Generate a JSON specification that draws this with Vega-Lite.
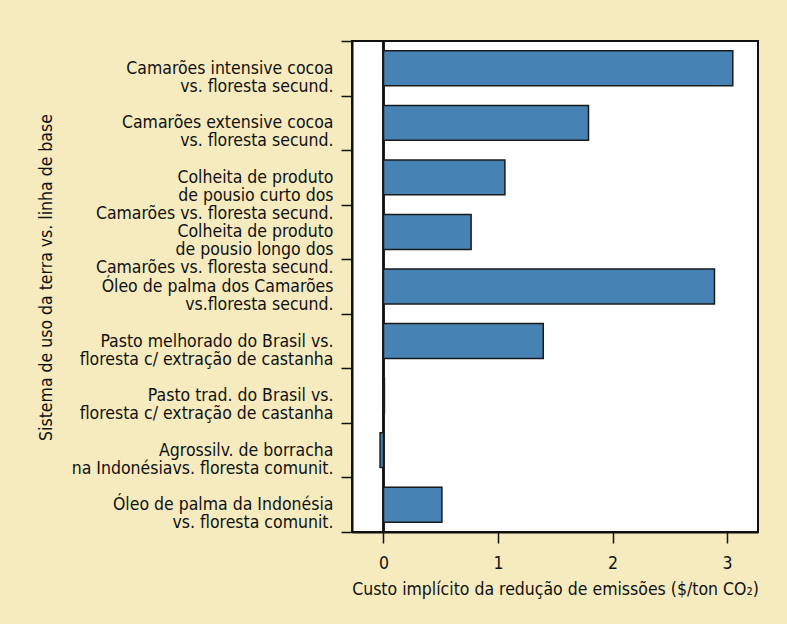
{
  "$schema": "https://vega.github.io/schema/vega-lite/v6.json",
  "width": 406,
  "height": 491,
  "autosize": {"type": "none"},
  "padding": {"left": 352, "top": 41, "right": 29, "bottom": 92},
  "background": "#f5ebbf",
  "config": {
    "view": {"stroke": "#111111", "strokeWidth": 2, "fill": "#ffffff"},
    "font": "DejaVu Sans Condensed, sans-serif",
    "axis": {
      "labelFont": "DejaVu Sans Condensed, sans-serif",
      "titleFont": "DejaVu Sans Condensed, sans-serif",
      "labelColor": "#111111",
      "titleColor": "#111111",
      "domainColor": "#111111",
      "tickColor": "#111111",
      "labelFontSize": 17.5,
      "titleFontSize": 17.5,
      "titleFontWeight": "normal",
      "tickSize": 11,
      "tickWidth": 1.5,
      "domainWidth": 2,
      "grid": false
    }
  },
  "data": {
    "values": [
      {"sistema": "Camarões intensive cocoa|vs. floresta secund.", "custo": 3.05},
      {"sistema": "Camarões extensive cocoa|vs. floresta secund.", "custo": 1.79},
      {"sistema": "Colheita de produto|de pousio curto dos|Camarões vs. floresta secund.", "custo": 1.06},
      {"sistema": "Colheita de produto|de pousio longo dos|Camarões vs. floresta secund.", "custo": 0.765},
      {"sistema": "Óleo de palma dos Camarões|vs.floresta secund.", "custo": 2.89},
      {"sistema": "Pasto melhorado do Brasil vs.|floresta c/ extração de  castanha", "custo": 1.395},
      {"sistema": "Pasto trad. do Brasil vs.|floresta c/ extração de castanha", "custo": 0.008},
      {"sistema": "Agrossilv. de borracha|na Indonésiavs. floresta comunit.", "custo": -0.03},
      {"sistema": "Óleo de palma da Indonésia|vs. floresta comunit.", "custo": 0.51}
    ]
  },
  "encoding": {
    "y": {
      "field": "sistema",
      "type": "nominal",
      "sort": null,
      "scale": {"paddingInner": 0, "paddingOuter": 0},
      "axis": {
        "title": "Sistema de uso da terra vs. linha de base",
        "titleAngle": 270,
        "titleBaseline": "alphabetic",
        "titleX": -301,
        "titleY": 236,
        "labelExpr": "split(datum.label, '|')",
        "labelLineHeight": 18,
        "labelPadding": 8,
        "labelLimit": 400,
        "tickBand": "extent"
      }
    }
  },
  "layer": [
    {
      "mark": {"type": "rule", "color": "#111111", "strokeWidth": 1.5},
      "encoding": {"x": {"datum": 0, "type": "quantitative", "scale": {"domain": [-0.275, 3.27], "nice": false}}, "y": null}
    },
    {
      "mark": {"type": "bar", "fill": "#4682b4", "stroke": "#1a1a1a", "strokeWidth": 1.5, "height": {"band": 0.64}},
      "encoding": {
        "x": {
          "field": "custo",
          "type": "quantitative",
          "scale": {"domain": [-0.275, 3.27], "nice": false},
          "axis": {
            "title": "Custo implícito da redução de emissões ($/ton CO₂)",
            "values": [0, 1, 2, 3],
            "format": "d",
            "labelPadding": 11,
            "titleY": 62,
            "titleBaseline": "alphabetic"
          }
        }
      }
    }
  ]
}
